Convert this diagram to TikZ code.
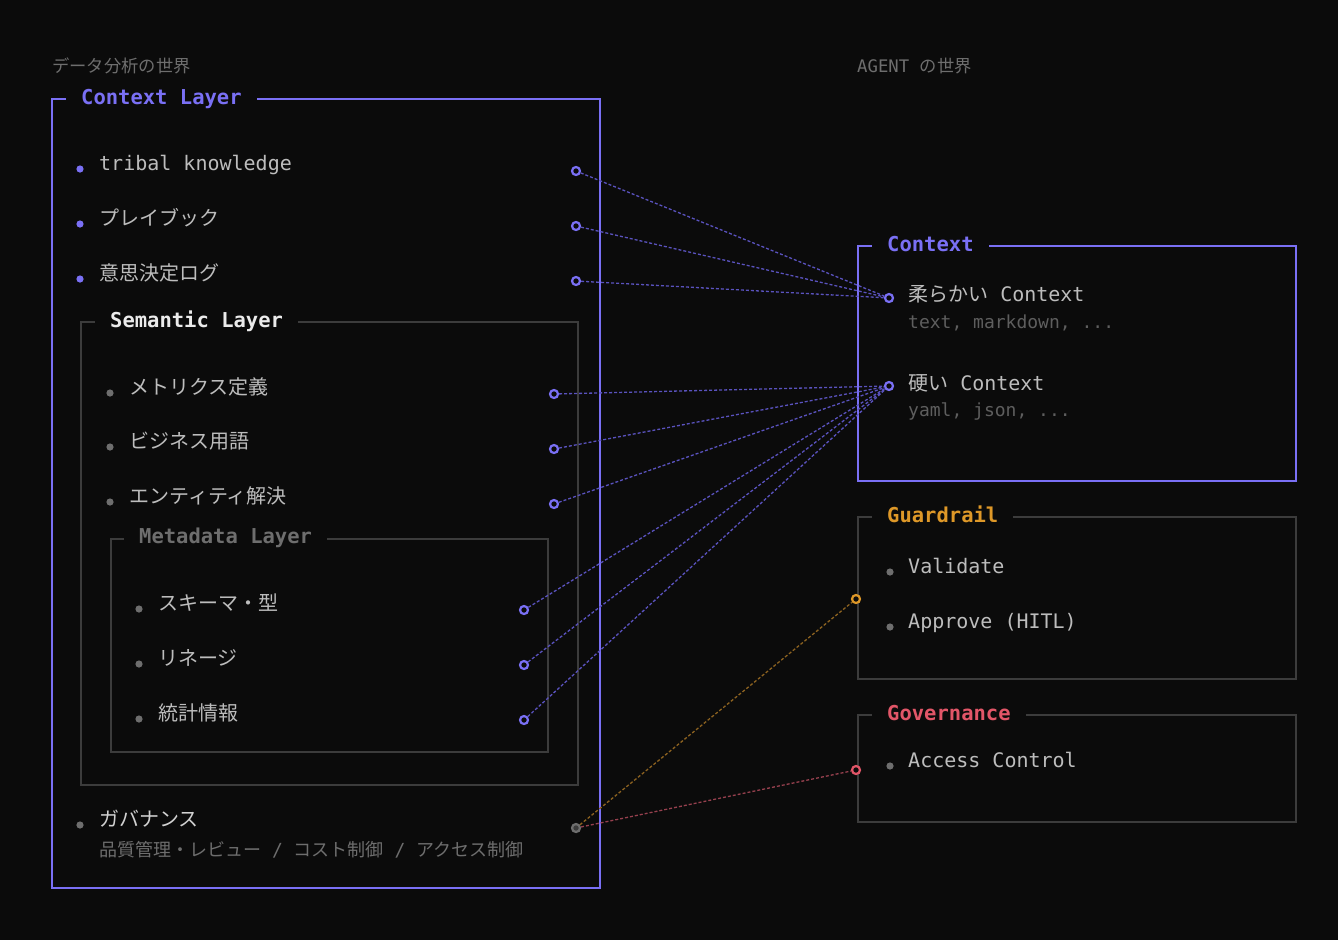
\documentclass[tikz,border=0pt]{standalone}
\usepackage{fontspec}
\setmainfont{DejaVu Sans Mono}
\newfontfamily\jp{Noto Sans CJK JP}
\definecolor{bg}{HTML}{0B0B0B}
\definecolor{violet}{RGB}{122,112,245}
\definecolor{linkviolet}{RGB}{90,82,190}
\definecolor{boxgray}{HTML}{3C3C3C}
\definecolor{itemgray}{HTML}{BDBDBD}
\definecolor{dotgray}{HTML}{6E6E6E}
\definecolor{subgray}{HTML}{5E5E5E}
\definecolor{amber}{RGB}{222,152,40}
\definecolor{linkamber}{RGB}{140,98,32}
\definecolor{rose}{RGB}{226,86,104}
\definecolor{linkrose}{RGB}{150,64,78}

\begin{document}
\begin{tikzpicture}[x=1pt,y=-1pt,
    item/.style={anchor=base west, inner sep=0pt, text=itemgray, font=\fontsize{20}{24}\selectfont},
    sub/.style={anchor=base west, inner sep=0pt, text=subgray, font=\fontsize{18}{22}\selectfont},
    world/.style={anchor=base west, inner sep=0pt, text=dotgray, font=\fontsize{17.3}{20}\selectfont},
    title/.style={anchor=base west, inner xsep=15pt, inner ysep=2pt, fill=bg, font=\fontsize{20.5}{24}\selectfont\bfseries},
    port/.style={circle, draw=#1, fill=bg, line width=2.2pt, minimum size=8pt, inner sep=0pt},
    link/.style={draw=#1, line width=1.3pt, dash pattern=on 3pt off 2pt},
    layer/.style={draw=#1, line width=2pt}]
    \fill[bg] (0,0) rectangle (1338,940);
    \useasboundingbox (0,0) rectangle (1338,940);

    \node[world] (wData) at (52,72) {\jp データ分析の世界};
    \node[world] (wAgent) at (857,72) {AGENT {\jp の世界}};

    \draw[layer=violet] (52,99) rectangle (600,888);
    \node[title, text=violet] (tCtxLayer) at (66,104) {Context Layer};
    \fill[violet] (80,169) circle (3.6pt);
    \fill[violet] (80,224) circle (3.6pt);
    \fill[violet] (80,279) circle (3.6pt);
    \node[item] (kTribal) at (99,170) {tribal knowledge};
    \node[item] (kPlay) at (99,225) {\jp プレイブック};
    \node[item] (kLog) at (99,280) {\jp 意思決定ログ};

    \draw[layer=boxgray] (81,322) rectangle (578,785);
    \node[title, text=white!92!black] (tSemLayer) at (95,327) {Semantic Layer};
    \fill[dotgray] (110,393) circle (3.6pt);
    \fill[dotgray] (110,447) circle (3.6pt);
    \fill[dotgray] (110,502) circle (3.6pt);
    \node[item] (kMetric) at (129,394) {\jp メトリクス定義};
    \node[item] (kBiz) at (129,448) {\jp ビジネス用語};
    \node[item] (kEntity) at (129,503) {\jp エンティティ解決};

    \draw[layer=boxgray] (111,539) rectangle (548,752);
    \node[title, text=dotgray] (tMetaLayer) at (124,543) {Metadata Layer};
    \fill[dotgray] (139,609) circle (3.6pt);
    \fill[dotgray] (139,664) circle (3.6pt);
    \fill[dotgray] (139,719) circle (3.6pt);
    \node[item] (kSchema) at (158,610) {\jp スキーマ・型};
    \node[item] (kLineage) at (158,665) {\jp リネージ};
    \node[item] (kStats) at (158,720) {\jp 統計情報};

    \fill[dotgray] (80,825) circle (3.6pt);
    \node[item, text=white!82!black] (kGov) at (99,826) {\jp ガバナンス};
    \node[sub, text=dotgray] (kGovSub) at (99,856) {{\jp 品質管理・レビュー} / {\jp コスト制御} / {\jp アクセス制御}};

    \draw[layer=violet] (858,246) rectangle (1296,481);
    \node[title, text=violet] (tCtx) at (872,251) {Context};
    \node[item] (kSoft) at (908,301) {{\jp 柔らかい} Context};
    \node[sub] (kSoftSub) at (908,328) {text, markdown, ...};
    \node[item] (kHard) at (908,390) {{\jp 硬い} Context};
    \node[sub] (kHardSub) at (908,416) {yaml, json, ...};

    \draw[layer=boxgray] (858,517) rectangle (1296,679);
    \node[title, text=amber] (tGuard) at (872,522) {Guardrail};
    \fill[dotgray] (890,572) circle (3.6pt);
    \fill[dotgray] (890,627) circle (3.6pt);
    \node[item] (kValidate) at (908,573) {Validate};
    \node[item] (kApprove) at (908,628) {Approve (HITL)};

    \draw[layer=boxgray] (858,715) rectangle (1296,822);
    \node[title, text=rose] (tGovern) at (872,720) {Governance};
    \fill[dotgray] (890,766) circle (3.6pt);
    \node[item] (kAccess) at (908,767) {Access Control};

    \node[port=violet] (pTribal) at (576,171) {};
    \node[port=violet] (pPlay) at (576,226) {};
    \node[port=violet] (pLog) at (576,281) {};
    \node[port=violet] (pMetric) at (554,394) {};
    \node[port=violet] (pBiz) at (554,449) {};
    \node[port=violet] (pEntity) at (554,504) {};
    \node[port=violet] (pSchema) at (524,610) {};
    \node[port=violet] (pLineage) at (524,665) {};
    \node[port=violet] (pStats) at (524,720) {};
    \node[port=dotgray, fill=boxgray] (pGov) at (576,828) {};
    \node[port=violet] (pSoft) at (889,298) {};
    \node[port=violet] (pHard) at (889,386) {};
    \node[port=amber] (pGuard) at (856,599) {};
    \node[port=rose] (pGovern) at (856,770) {};

    \draw[link=linkviolet] (pTribal) -- (pSoft);
    \draw[link=linkviolet] (pPlay) -- (pSoft);
    \draw[link=linkviolet] (pLog) -- (pSoft);
    \draw[link=linkviolet] (pMetric) -- (pHard);
    \draw[link=linkviolet] (pBiz) -- (pHard);
    \draw[link=linkviolet] (pEntity) -- (pHard);
    \draw[link=linkviolet] (pSchema) -- (pHard);
    \draw[link=linkviolet] (pLineage) -- (pHard);
    \draw[link=linkviolet] (pStats) -- (pHard);
    \draw[link=linkamber] (pGov) -- (pGuard);
    \draw[link=linkrose] (pGov) -- (pGovern);
  \end{tikzpicture}
\end{document}
